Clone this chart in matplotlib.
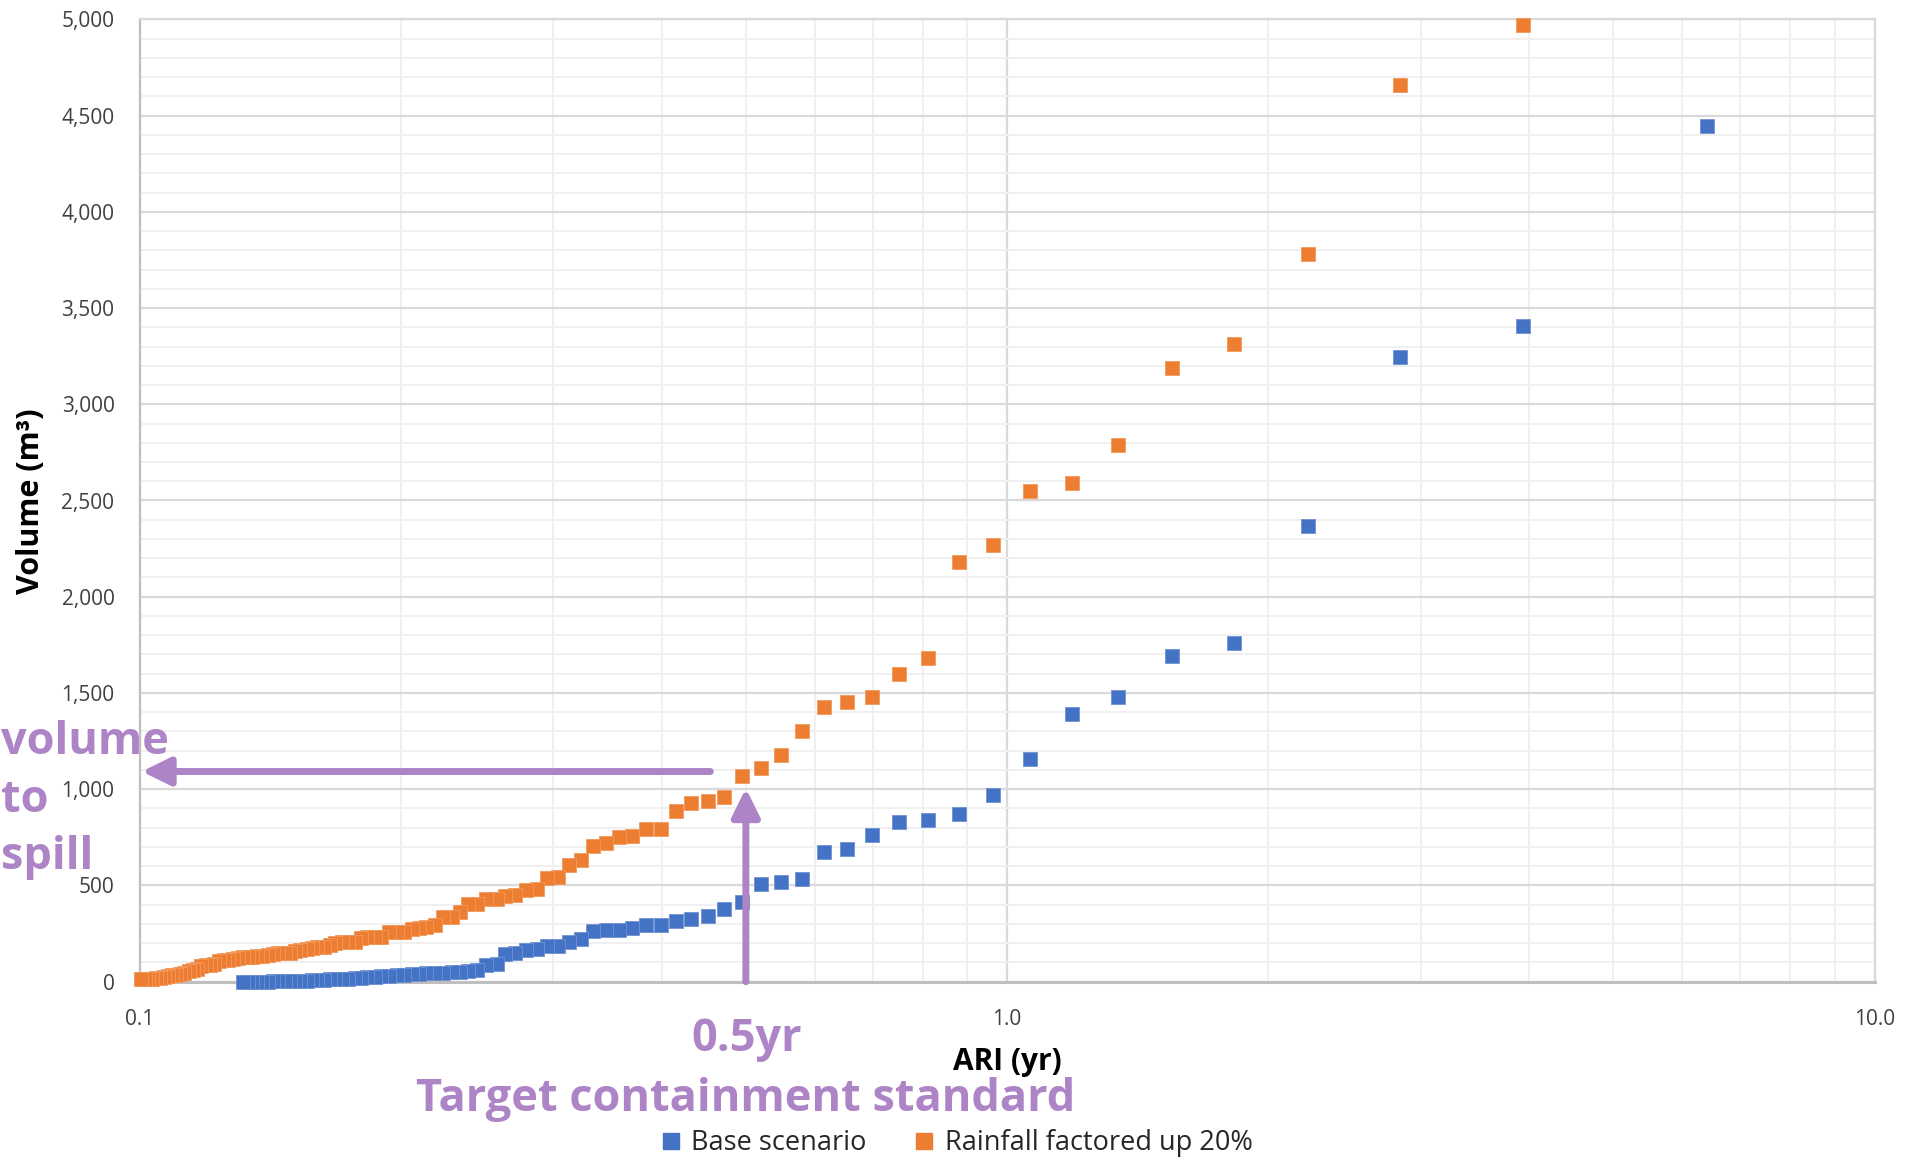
import matplotlib
matplotlib.use("Agg")
import matplotlib.pyplot as plt
from matplotlib.ticker import FixedLocator, MultipleLocator, LogLocator, FuncFormatter, NullFormatter
from matplotlib.lines import Line2D

plt.rcParams['font.family'] = ['Open Sans', 'Noto Sans', 'DejaVu Sans']

# ---------------- data ----------------
# ARI plotting positions (years), rank 1 = largest event
ari = [6.415, 3.938, 2.841, 2.222, 1.825, 1.548, 1.344, 1.187, 1.064, 0.963,
       0.880, 0.810, 0.751, 0.699, 0.654, 0.615, 0.580, 0.549, 0.521, 0.495,
       0.472, 0.452, 0.432, 0.415, 0.399, 0.384, 0.370, 0.357, 0.345, 0.333,
       0.323, 0.313, 0.304, 0.295, 0.287, 0.279, 0.271, 0.264, 0.258, 0.251,
       0.245, 0.239, 0.234, 0.229, 0.224, 0.219, 0.214, 0.210, 0.206, 0.202,
       0.198, 0.194, 0.190, 0.187, 0.183, 0.180, 0.177, 0.174, 0.171, 0.168,
       0.166, 0.163, 0.160, 0.158, 0.156, 0.153, 0.151, 0.149, 0.147, 0.1445,
       0.1425, 0.1405, 0.1386, 0.1367, 0.1349, 0.1332, 0.1315, 0.1298, 0.1282, 0.1266,
       0.1251, 0.1235, 0.1220, 0.1206, 0.1192, 0.1178, 0.1165, 0.1152, 0.1139, 0.1126,
       0.1114, 0.1102, 0.1090, 0.1078, 0.1067, 0.1056, 0.1045, 0.1035, 0.1024, 0.1014,
       0.1004]

# Base scenario volumes (m3), ranks 1..77
vol_base = [4445, 3408, 3247, 2370, 1758, 1692, 1477, 1391, 1158, 971,
            871, 838, 831, 764, 691, 672, 532, 518, 506, 414,
            380, 340, 328, 313, 293, 293, 281, 270, 268, 266,
            220, 208, 188, 183, 170, 166, 150, 145, 90, 85,
            61, 55, 52, 48, 46, 44, 43, 40, 38, 35,
            33, 30, 28, 25, 22, 20, 18, 16, 15, 13,
            12, 10, 8, 7, 6, 5, 4, 3, 3, 2,
            2, 1, 1, 0, 0, 0, 0]

# Rainfall factored up 20% volumes (m3), ranks 2..101 (rank 1 is above the axis)
vol_rain = [4971, 4658, 3780, 3314, 3188, 2788, 2592, 2547, 2269, 2180,
            1683, 1598, 1477, 1451, 1425, 1304, 1178, 1112, 1070, 958,
            940, 927, 887, 795, 795, 758, 750, 719, 705, 631,
            605, 546, 540, 480, 475, 450, 445, 431, 431, 402,
            402, 364, 338, 338, 294, 282, 280, 275, 260, 260,
            258, 234, 234, 230, 225, 208, 208, 205, 200, 190,
            182, 180, 173, 170, 165, 160, 151, 151, 148, 145,
            140, 135, 132, 130, 130, 128, 125, 120, 115, 113,
            105, 90, 87, 85, 80, 65, 61, 55, 45, 38,
            35, 33, 30, 22, 20, 18, 16, 15, 14, 12]

ari_base = ari[:len(vol_base)]
ari_rain = ari[1:1 + len(vol_rain)]

series_names = ['Base scenario', 'Rainfall factored up 20%']
xtick_vals = [0.1, 1.0, 10.0]
xtick_labels = ['0.1', '1.0', '10.0']

target_ari = 0.5
spill_volume = 1092
target_volume = 1005

# ---------------- styling ----------------
BLUE = '#4472C4'
ORANGE = '#ED7D31'
PURPLE = '#AD84C6'
TXT = '#404040'

W, H = 1911, 1160
fig = plt.figure(figsize=(W / 100, H / 100), dpi=100)
L, R, T, B = 139.5, 1874.5, 19.3, 981.7
ax = fig.add_axes([L / W, 1 - B / H, (R - L) / W, (B - T) / H])

ax.set_xscale('log')
ax.set_xlim(0.1, 10)
ax.set_ylim(0, 5000)

ax.xaxis.set_major_locator(FixedLocator(xtick_vals))
ax.set_xticks(xtick_vals)
ax.set_xticklabels(xtick_labels)
ax.xaxis.set_minor_locator(LogLocator(base=10, subs=range(2, 10)))
ax.xaxis.set_minor_formatter(NullFormatter())
ax.yaxis.set_major_locator(MultipleLocator(500))
ax.yaxis.set_minor_locator(MultipleLocator(100))
ax.yaxis.set_major_formatter(FuncFormatter(lambda v, p: f'{v:,.0f}'))

ax.grid(which='major', color='#D9D9D9', lw=1.6)
ax.grid(which='minor', color='#F0F0F0', lw=1.4)
ax.set_axisbelow(True)
ax.tick_params(which='both', length=0)
ax.tick_params(axis='y', labelsize=15, colors=TXT, pad=18)
ax.tick_params(axis='x', labelsize=15, colors=TXT, pad=20)

for s in ['top', 'right']:
    ax.spines[s].set_color('#D9D9D9')
    ax.spines[s].set_linewidth(1.6)
ax.spines['left'].set_color('#BFBFBF')
ax.spines['left'].set_linewidth(1.6)
ax.spines['bottom'].set_color('#BFBFBF')
ax.spines['bottom'].set_linewidth(2.2)

ax.plot(ari_base, vol_base, 's', color=BLUE, ms=10, mew=0.6, mec='#6F92D3',
        clip_on=False, zorder=3)
ax.plot(ari_rain, vol_rain, 's', color=ORANGE, ms=10, mew=0.6, mec='#F29A5E',
        clip_on=False, zorder=3)

# arrows
aprops = dict(arrowstyle='-|>,head_length=0.85,head_width=0.42', color=PURPLE,
              lw=5, mutation_scale=20, shrinkA=0, shrinkB=0)
ax.annotate('', xy=(0.1006, spill_volume), xytext=(0.455, spill_volume),
            arrowprops=aprops, annotation_clip=False, zorder=4)
ax.annotate('', xy=(target_ari, target_volume), xytext=(target_ari, 0),
            arrowprops=aprops, annotation_clip=False, zorder=4)

# axis labels
ax.set_xlabel('ARI (yr)', fontsize=21.5, fontweight='bold', color='black', va='center')
ax.xaxis.set_label_coords(0.5, -(1062 - B) / (B - T))
ax.set_ylabel('Volume (m³)', fontsize=22, fontweight='bold', color='black',
              va='center', ha='center')
ax.yaxis.set_label_coords(-(L - 31) / (R - L), (B - 501) / (B - T))

# purple annotation texts
pk = dict(color=PURPLE, fontsize=32.5, fontweight='bold', va='center')
fig.text(747 / W, 1 - 1039 / H, '0.5yr', ha='center', **pk)
fig.text(746 / W, 1 - 1100 / H, 'Target containment standard', ha='center', **pk)
fig.text(1 / W, 1 - 742 / H, 'volume', ha='left', **pk)
fig.text(1 / W, 1 - 801 / H, 'to', ha='left', **pk)
fig.text(1 / W, 1 - 858 / H, 'spill', ha='left', **pk)

# legend
handles = [Line2D([], [], ls='none', marker='s', ms=11, color=BLUE),
           Line2D([], [], ls='none', marker='s', ms=11, color=ORANGE)]
fig.legend(handles, series_names, loc='center', ncol=2, frameon=False,
           bbox_to_anchor=(957 / W, 1 - 1143 / H), fontsize=19.5,
           handlelength=0.7, handletextpad=0.4, columnspacing=1.78,
           labelcolor='#262626')

fig.savefig('out.png', dpi=100)
